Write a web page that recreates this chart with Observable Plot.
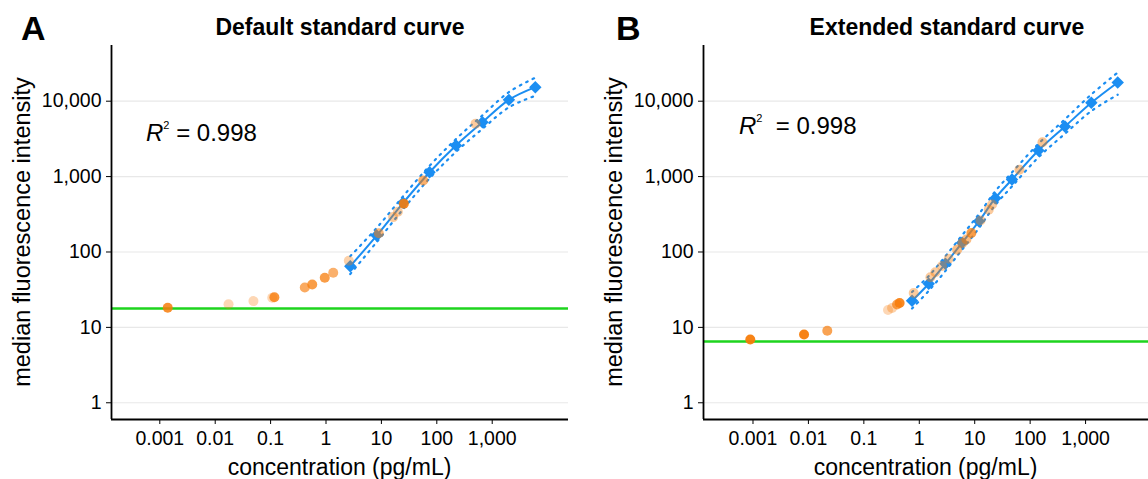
<!DOCTYPE html>
<html><head><meta charset="utf-8">
<script src="https://cdn.jsdelivr.net/npm/d3@7"></script>
<script src="https://cdn.jsdelivr.net/npm/@observablehq/plot@0.6"></script>
<style>
body{margin:0;background:#fff;}
#wrap{position:relative;width:1148px;height:479px;overflow:hidden;font-family:"Liberation Sans",Arial,sans-serif;color:#000;background:#fff;}
.panel{position:absolute;top:0;}
.t{position:absolute;white-space:nowrap;line-height:1;}
.letter{font-weight:bold;font-size:34px;}
.title{font-weight:bold;font-size:23px;transform:translateX(-50%);}
.xlab{font-size:23px;transform:translateX(-50%);}
.ylab{font-size:23.5px;transform:translate(-50%,-50%) rotate(-90deg);}
.r2{font-size:24px;}
.r2 sup{font-size:11px;vertical-align:top;position:relative;top:-1px;}
</style></head>
<body><div id="wrap"></div>
<script>
// ---------- shared ----------
const xTicks = [0.001, 0.01, 0.1, 1, 10, 100, 1000];
const yTicks = [1, 10, 100, 1000, 10000];
const titles = ["Default standard curve", "Extended standard curve"];
const letters = ["A", "B"];
const r2Values = ["0.998", "0.998"];
const xLabel = "concentration (pg/mL)";
const yLabel = "median fluorescence intensity";

// ---------- panel A ----------
const aStdConc = [2.74, 8.2, 24.7, 74, 222, 667, 2000, 6000];
const aStdMFI  = [64.8, 165, 449, 1143, 2583, 5260, 10420, 15350];
const aUpper   = [88, 208, 550, 1390, 3150, 6500, 13200, 20500];
const aLower   = [51, 135, 370, 945, 2130, 4300, 8300, 11800];
const aSmpConc = [0.00139, 0.0174, 0.049, 0.107, 0.117, 0.414, 0.564, 0.95, 1.35, 2.58, 8.98, 16.3, 19.8, 25.4, 56.9, 500];
const aSmpMFI  = [18.2, 20.3, 22.3, 24.7, 25.1, 33.8, 37.1, 45.5, 53, 76.4, 177.6, 290, 341, 436, 888, 5012];
const aSmpAlpha= [0.85, 0.3, 0.3, 0.3, 0.8, 0.65, 0.75, 0.75, 0.6, 0.35, 0.55, 0.4, 0.4, 0.9, 0.6, 0.4];
const aLLOD = 17.8;

// ---------- panel B ----------
const bStdConc = [0.74, 1.48, 2.96, 5.9, 11.9, 23.5, 47, 141, 424, 1270, 3800];
const bStdMFI  = [22.5, 37.9, 69.7, 132.5, 255, 517, 915, 2218, 4615, 9530, 17700];
const bUpper   = [29.5, 48, 88, 166, 318, 640, 1135, 2720, 5750, 12300, 24000];
const bLower   = [17.8, 30.5, 56, 107, 207, 420, 740, 1800, 3700, 7400, 12200];
const bSmpConc = [0.000893, 0.00834, 0.0219, 0.273, 0.323, 0.397, 0.442, 0.793, 1.585, 1.95, 2.58, 3.39, 4.81, 6.0, 7.08, 8.71, 12.7, 17.9, 20.6, 64.1, 167];
const bSmpMFI  = [6.91, 8.05, 9.02, 17.0, 18.1, 20.1, 21.1, 28.6, 46.3, 54, 65.2, 81.3, 107, 131.6, 146.5, 178.6, 262, 364, 427, 1231, 2858];
const bSmpAlpha= [0.95, 0.95, 0.7, 0.3, 0.35, 0.7, 0.9, 0.4, 0.4, 0.4, 0.4, 0.4, 0.5, 0.5, 0.5, 0.75, 0.4, 0.4, 0.4, 0.45, 0.45];
const bLLOD = 6.5;

const BLUE = "#1b8ef2", ORANGE = "#f77c0a", GREEN = "#1ed41e";

function panel(cfg) {
  const std = cfg.stdConc.map((c, i) => ({conc: c, mfi: cfg.stdMFI[i], up: cfg.upper[i], lo: cfg.lower[i]}));
  const smp = cfg.smpConc.map((c, i) => ({conc: c, mfi: cfg.smpMFI[i], a: cfg.smpAlpha[i]}));
  return Plot.plot({
    width: 574, height: 479,
    marginLeft: cfg.ml, marginRight: cfg.mr, marginTop: 45, marginBottom: 60,
    style: {fontFamily: "'Liberation Sans', Arial, sans-serif", fontSize: "19.5px", color: "#000", background: "#fff", overflow: "visible"},
    x: {type: "log", domain: cfg.xdom, ticks: xTicks, tickFormat: d3.format(","), tickSize: 5, tickPadding: 7, label: null},
    y: {type: "log", domain: [0.6, 54800], ticks: yTicks, tickFormat: d3.format(","), tickSize: 5, tickPadding: 5, label: null},
    marks: [
      Plot.gridY(yTicks, {stroke: "#e8e8e8", strokeOpacity: 1, strokeWidth: 1.2}),
      Plot.ruleY([cfg.llod], {stroke: GREEN, strokeWidth: 2.4}),
      Plot.line(std, {x: "conc", y: "up", curve: "catmull-rom", stroke: BLUE, strokeWidth: 2.2, strokeDasharray: "1.6,5.5"}),
      Plot.line(std, {x: "conc", y: "lo", curve: "catmull-rom", stroke: BLUE, strokeWidth: 2.2, strokeDasharray: "1.6,5.5"}),
      Plot.line(std, {x: "conc", y: "mfi", curve: "catmull-rom", stroke: BLUE, strokeWidth: 2}),
      Plot.dot(std, {x: "conc", y: "mfi", symbol: "diamond2", r: 5.6, fill: BLUE, stroke: "none"}),
      Plot.dot(smp, {x: "conc", y: "mfi", r: 5, fill: ORANGE, fillOpacity: "a", stroke: "none"}),
      Plot.ruleX([cfg.xdom[0]], {stroke: "#000", strokeWidth: 1.8}),
      Plot.ruleY([0.6], {stroke: "#000", strokeWidth: 1.8})
    ]
  });
}

const wrap = document.getElementById("wrap");
const cfgs = [
  {stdConc: aStdConc, stdMFI: aStdMFI, upper: aUpper, lower: aLower, smpConc: aSmpConc, smpMFI: aSmpMFI, smpAlpha: aSmpAlpha, llod: aLLOD, ml: 111, mr: 6, xdom: [1.343e-4, 23830], left: 0},
  {stdConc: bStdConc, stdMFI: bStdMFI, upper: bUpper, lower: bLower, smpConc: bSmpConc, smpMFI: bSmpMFI, smpAlpha: bSmpAlpha, llod: bLLOD, ml: 129, mr: 0, xdom: [1.28e-4, 13650], left: 574}
];
const r2Pos = [[146, 121], [739, 114]];
const letterPos = [[21, 11], [616, 11]];
const titleX = [340, 947];
const ylabX = [23, 615];

cfgs.forEach((cfg, i) => {
  const d = document.createElement("div");
  d.className = "panel";
  d.style.left = cfg.left + "px";
  d.appendChild(panel(cfg));
  wrap.appendChild(d);
  const plotL = cfg.left + cfg.ml, plotR = cfg.left + 574 - cfg.mr;
  const add = (cls, html, x, y) => {
    const e = document.createElement("div");
    e.className = "t " + cls; e.innerHTML = html;
    e.style.left = x + "px"; e.style.top = y + "px";
    wrap.appendChild(e); return e;
  };
  add("letter", letters[i], letterPos[i][0], letterPos[i][1]);
  add("title", titles[i], titleX[i], 16);
  add("xlab", xLabel, (plotL + plotR) / 2, 456);
  add("ylab", yLabel, ylabX[i], 232);
  add("r2", "<i>R</i><sup>2</sup>" + (i === 1 ? "&nbsp;" : "") + " = " + r2Values[i], r2Pos[i][0], r2Pos[i][1]);
});
</script>
</body></html>
